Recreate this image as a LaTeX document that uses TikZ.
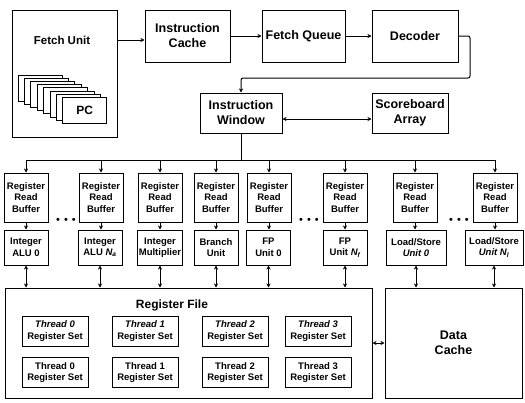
\documentclass[tikz,border=0pt]{standalone}
\usepackage{fontspec}
\setmainfont{Liberation Sans}
\usetikzlibrary{arrows.meta, calc}

\tikzset{
  blk/.style={draw, line width=1pt, align=center, inner sep=1pt, fill=white,
    font=\fontsize{12.5}{15}\selectfont\bfseries},
  rrb/.style={blk, minimum width=44pt, minimum height=49pt,
    font=\fontsize{9.5}{11.5}\selectfont\bfseries},
  fu/.style={blk, minimum width=44pt, minimum height=35pt,
    font=\fontsize{9.5}{11.5}\selectfont\bfseries},
  tset/.style={blk, minimum width=66pt, minimum height=30pt,
    font=\fontsize{9.5}{11.5}\selectfont\bfseries},
  arr/.style={line width=1pt, -{Stealth[length=4pt,width=4pt]}},
  biarr/.style={line width=1pt, {Stealth[length=4pt,width=4pt]}-{Stealth[length=4pt,width=4pt]}},
  dots/.style={font=\fontsize{11}{12}\selectfont, inner sep=0pt},
}

\begin{document}
\begin{tikzpicture}[x=1pt, y=-1pt]
  \useasboundingbox (0,0) rectangle (525,402);

  % Fetch unit with its stack of PCs
  \node[blk, minimum width=105pt, minimum height=127pt] (fetch) at (65,73.5) {};
  \node[font=\fontsize{11.5}{14}\selectfont\bfseries] (fetchlbl) at (62,40) {Fetch Unit};
  \foreach \k in {0,...,7}
    \draw[line width=0.8pt, fill=white] ($(18,75)+(\k*6.4,\k*3.2)$) rectangle ++(44,26);
  \node[font=\fontsize{12}{14}\selectfont\bfseries] (pc) at (84.8,110.4) {PC};

  % Front end
  \node[blk, minimum width=85pt, minimum height=52pt] (icache) at (187.5,36) {Instruction\\Cache};
  \node[blk, minimum width=83pt, minimum height=52pt] (fqueue) at (303.5,36) {Fetch Queue};
  \node[blk, minimum width=86pt, minimum height=52pt] (decoder) at (415,36) {Decoder};
  \node[blk, minimum width=82pt, minimum height=40pt] (iwin) at (241,113) {Instruction\\Window};
  \node[blk, minimum width=76pt, minimum height=40pt] (score) at (410,113) {Scoreboard\\Array};

  \draw[arr] (fetch.east |- 0,40) -- (icache.west |- 0,40);
  \draw[arr] (icache) -- (fqueue);
  \draw[arr] (fqueue) -- (decoder);
  \coordinate (loop) at (470,78);
  \draw[arr, rounded corners=2pt] (decoder.east) -| (loop) -| (iwin.north);
  \draw[biarr] (iwin.east |- 0,119) -- (score.west |- 0,119);

  % Register read buffers
  \foreach \i/\x in {1/26, 2/101, 3/160, 4/216, 5/269, 6/345, 7/415, 8/495}
    \node[rrb] (rrb\i) at (\x,197.5) {Register\\Read\\Buffer};

  \coordinate (bus) at (241,160);
  \draw[line width=1pt] (iwin.south) -- (bus);
  \draw[line width=1pt] (rrb1.north |- bus) -- (rrb8.north |- bus);
  \foreach \i in {1,...,8}
    \draw[arr] (rrb\i.north |- bus) -- (rrb\i.north);

  \node[dots] (dotsA) at (66,221) {\textbullet\hspace{4pt}\textbullet\hspace{4pt}\textbullet};
  \node[dots] (dotsB) at (309,221) {\textbullet\hspace{4pt}\textbullet\hspace{4pt}\textbullet};
  \node[dots] (dotsC) at (459,221) {\textbullet\hspace{4pt}\textbullet\hspace{4pt}\textbullet};

  % Functional units
  \node[fu] (fu1) at (26,247.5) {Integer\\ALU 0};
  \node[fu] (fu2) at (100,247.5) {Integer\\ALU \textit{N\textsubscript{a}}};
  \node[fu] (fu3) at (160,247.5) {Integer\\Multiplier};
  \node[fu] (fu4) at (216,247.5) {Branch\\Unit};
  \node[fu] (fu5) at (268.5,247.5) {FP\\Unit 0};
  \node[fu] (fu6) at (345,247.5) {FP\\Unit \textit{N\textsubscript{f}}};
  \node[fu, minimum width=60pt] (fu7) at (416,247.5) {Load/Store\\\textit{Unit 0}};
  \node[fu, minimum width=58pt] (fu8) at (494,247.5) {Load/Store\\\textit{Unit N\textsubscript{l}}};

  \foreach \i in {1,...,8}
    \draw[arr] (rrb\i.south) -- (rrb\i.south |- fu\i.north);

  % Register file and data cache
  \node[draw, line width=1pt, minimum width=367pt, minimum height=110pt] (regfile) at (188.5,343) {};
  \node[font=\fontsize{12}{14}\selectfont\bfseries] (rflbl) at (172,305) {Register File};
  \node[blk, minimum width=137pt, minimum height=110pt] (dcache) at (453.5,343) {Data\\Cache};
  \draw[biarr] (regfile.east) -- (dcache.west);

  \foreach \i in {1,...,6}
    \draw[biarr] (fu\i.south) -- (fu\i.south |- regfile.north);
  \foreach \i in {7,8}
    \draw[biarr] (fu\i.south) -- (fu\i.south |- dcache.north);

  % Thread register sets
  \foreach \j/\x in {0/55, 1/145, 2/235, 3/318} {
    \node[tset] (ta\j) at (\x,331) {\textit{Thread \j}\\Register Set};
    \node[tset] (tb\j) at (\x,372.5) {Thread \j\\Register Set};
  }
\end{tikzpicture}
\end{document}
